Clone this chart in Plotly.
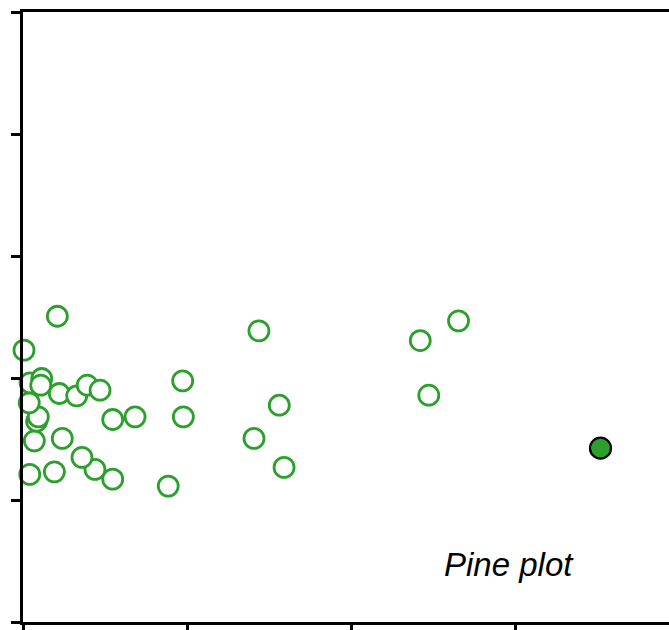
import plotly.graph_objects as go

# Open-circle samples (x, y)
open_x = [0.209, 0.006, 1.436, 2.418, 2.651, 2.470, 0.972, 1.560, 0.976, 0.682,
          0.546, 1.406, 1.589, 0.884, 0.546, 0.438, 0.359, 0.239, 0.191, 0.041,
          -0.006, 0.069, 0.083, 0.093, 0.038, -0.008, 0.043, 0.114, 0.108, 0.221,
          0.327, 0.391, 0.469]
open_y = [2.506, 2.228, 2.386, 2.307, 2.468, 1.859, 1.976, 1.777, 1.681, 1.681,
          1.660, 1.505, 1.267, 1.114, 1.171, 1.251, 1.349, 1.505, 1.231, 1.210,
          1.313, 1.485, 1.646, 1.681, 1.796, 1.922, 1.960, 1.996, 1.941, 1.873,
          1.853, 1.941, 1.900]

# Highlighted point
filled_x = [3.515]
filled_y = [1.425]

x_ticks = [0, 1, 2, 3]
y_ticks = [0, 1, 2, 3, 4, 5]
label = "Pine plot"

green = "#2ca02c"

fig = go.Figure()
fig.add_trace(go.Scatter(
    x=open_x, y=open_y, mode="markers", cliponaxis=False,
    marker=dict(size=20, color="white", line=dict(color=green, width=2.8)),
    showlegend=False,
))
fig.add_trace(go.Scatter(
    x=filled_x, y=filled_y, mode="markers", cliponaxis=False,
    marker=dict(size=21, color=green, line=dict(color="black", width=2.2)),
    showlegend=False,
))

fig.add_annotation(
    x=2.958, y=0.475, xref="x", yref="y", text="<i>" + label + "</i>",
    showarrow=False,
    font=dict(family="Liberation Sans, Arial, sans-serif", size=33, color="black"),
    xanchor="center", yanchor="middle",
)

fig.update_layout(
    width=669, height=630,
    margin=dict(l=23, r=0, t=12, b=8),
    paper_bgcolor="white", plot_bgcolor="white",
    xaxis=dict(range=[0, 3.932], tickvals=x_ticks, showticklabels=False,
               showgrid=False, zeroline=False, showline=True, linecolor="black",
               linewidth=2.5, mirror=True, ticks="outside", ticklen=8,
               tickwidth=2.5, tickcolor="black"),
    yaxis=dict(range=[0, 5], tickvals=y_ticks, showticklabels=False,
               showgrid=False, zeroline=False, showline=True, linecolor="black",
               linewidth=2.5, mirror=False, ticks="outside", ticklen=9,
               tickwidth=2.5, tickcolor="black"),
)

fig.write_html("out.html")
